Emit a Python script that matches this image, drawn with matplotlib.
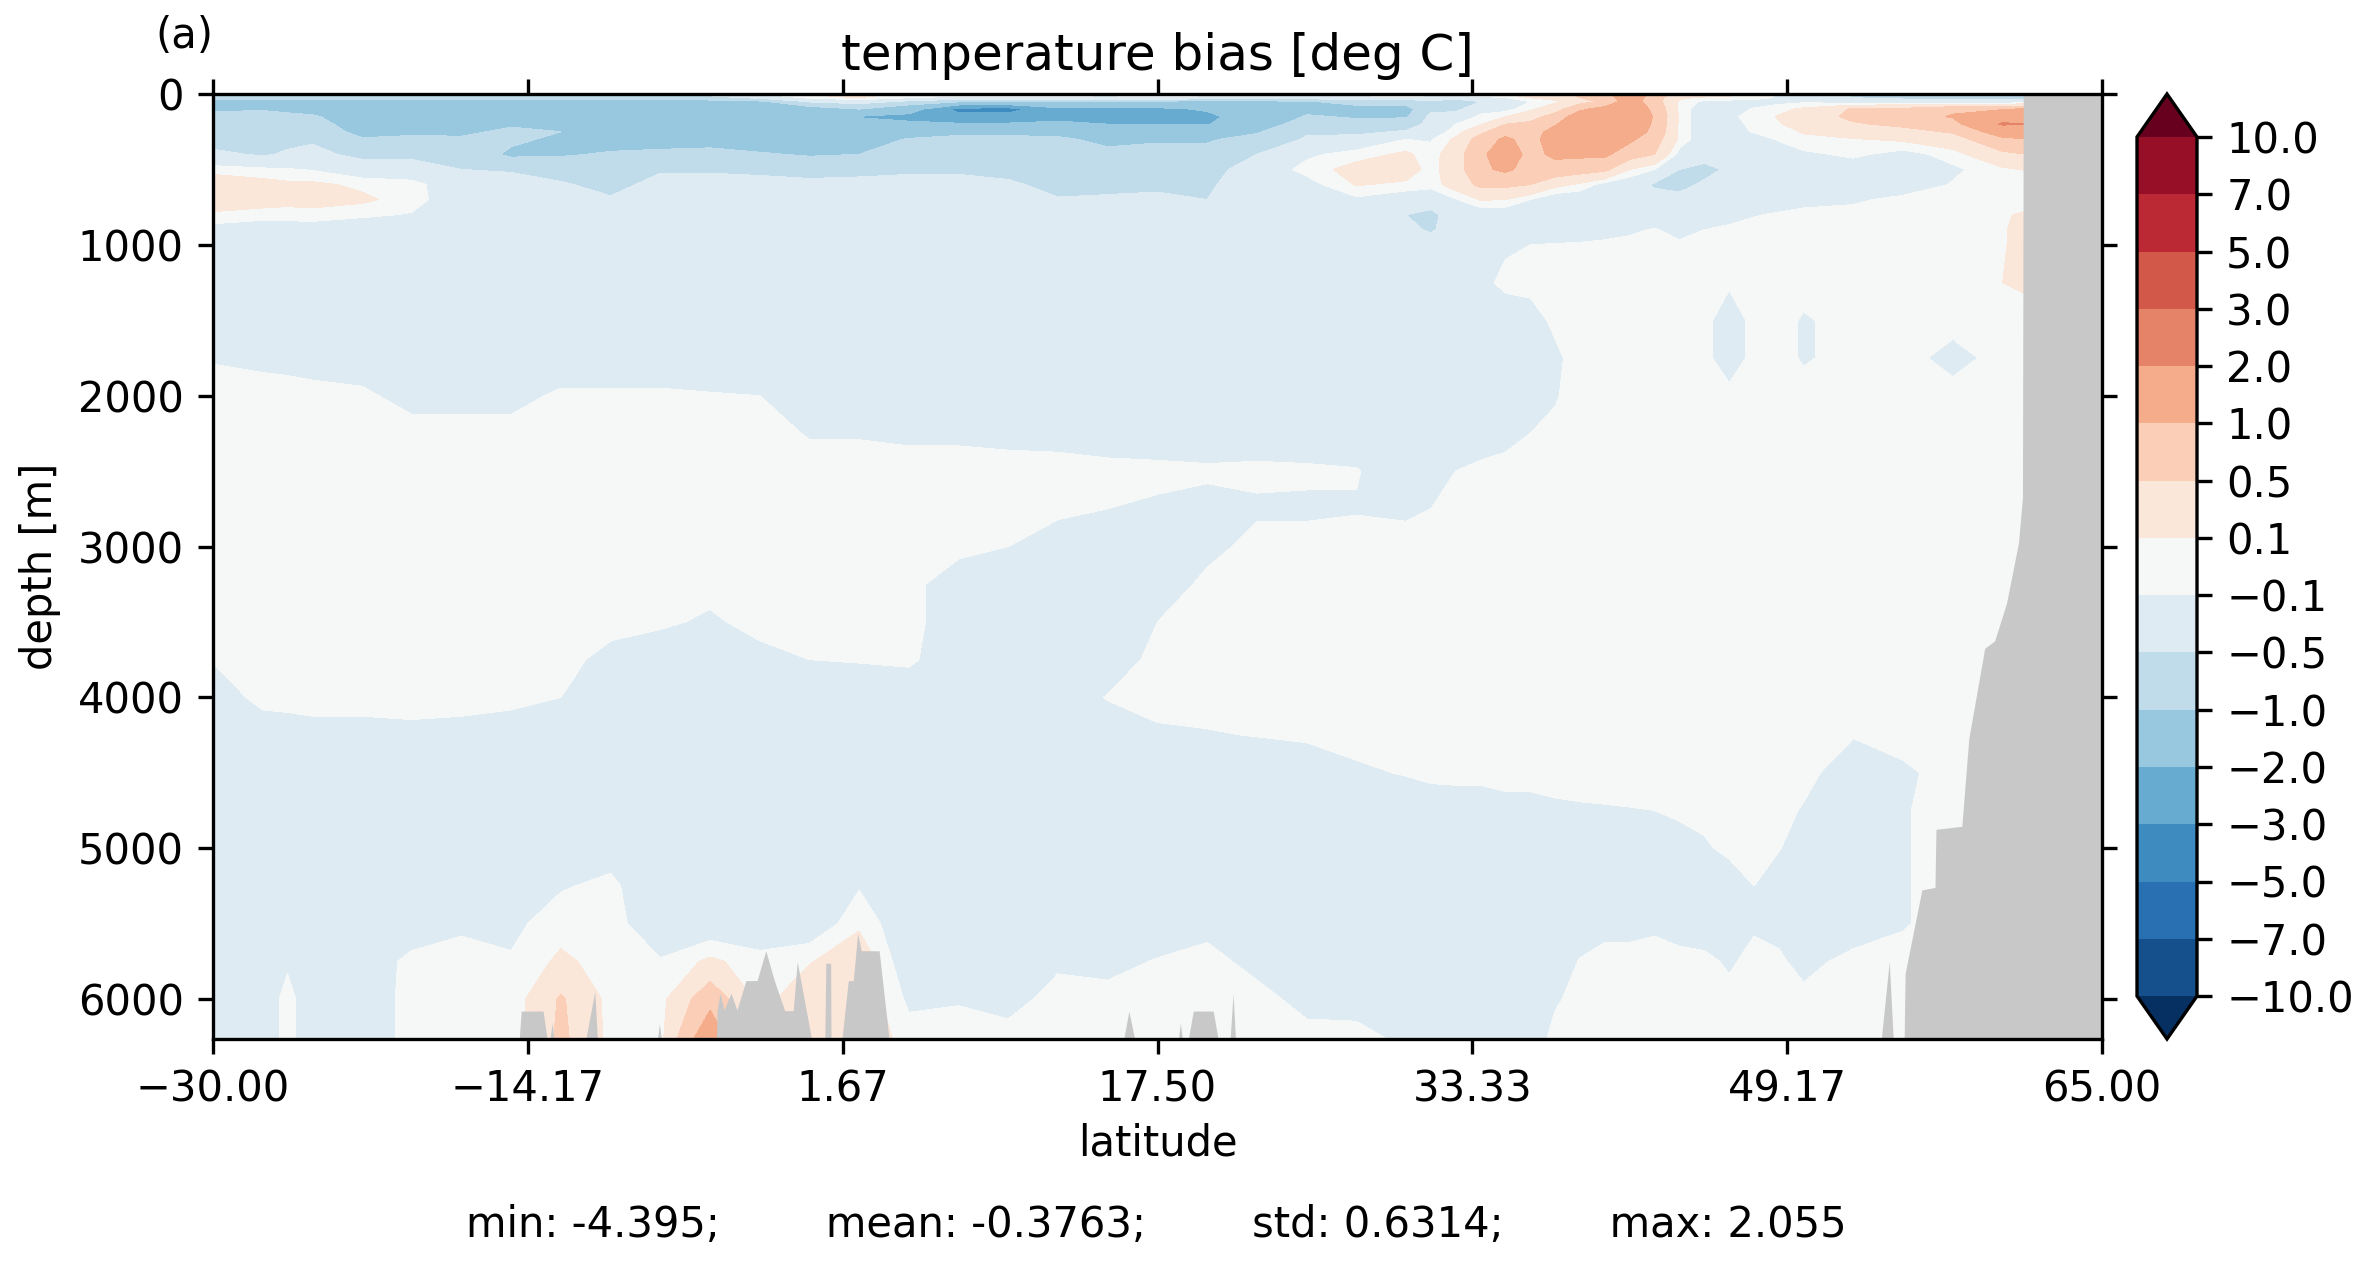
import numpy as np
import matplotlib
matplotlib.use("Agg")
import matplotlib.pyplot as plt
from matplotlib import colors, ticker

latitudes = [-30, -27.5, -26.25, -25, -22.5, -20, -17.5, -15, -12.5, -10, -7.5, -5, -2.5, 0, 2.5, 5, 7.5, 10, 12.5, 15,
             17.5, 20, 22.5, 25, 27.5, 30, 31.25, 32.5, 33.75, 35, 36.25, 37.5, 38.75, 40, 41.25, 42.5, 43.75, 45,
             46.25, 47.5, 48.75, 50, 52.5, 55, 57.5, 60, 62.5, 65]

upper_depths = [0, 25, 50, 100, 150, 200, 250, 300, 400, 500, 600, 700, 800, 900, 1000]
deep_depths = [1250, 1500, 1750, 2000, 2250, 2500, 2750, 3000, 3250, 3500, 3750, 4000, 4250, 4500, 4750, 5000, 5250,
               5500, 5750, 6000, 6265]

# bias per latitude (one line = one latitude), 0-1000 m
bias_upper = [
    [-.75, -.75, -1.2, -1.1, -.8, -.75, -.7, -.7, -.4, 0, .3, .3, .05, -.2, -.3],
    [-.4, -.75, -1.2, -1.05, -.8, -.7, -.7, -.7, -.55, -.05, .2, .2, .02, -.3, -.3],
    [-.45, -.75, -1.25, -1.15, -.85, -.7, -.65, -.6, -.45, -.08, .15, .17, .02, -.28, -.3],
    [-.5, -.75, -1.3, -1.3, -.9, -.7, -.6, -.55, -.4, -.12, .15, .2, .02, -.25, -.3],
    [-.5, -.75, -1.4, -1.5, -1.5, -1.4, -1.2, -.95, -.6, -.3, .05, .15, -.05, -.3, -.3],
    [-.5, -.8, -1.4, -1.5, -1.5, -1.4, -1.1, -.9, -.6, -.3, -.02, 0, -.12, -.3, -.3],
    [-.5, -.8, -1.4, -1.5, -1.5, -1.4, -1.15, -.9, -.65, -.5, -.3, -.3, -.3, -.3, -.3],
    [-.6, -.8, -1.3, -1.5, -1.5, -1.1, -.85, -.9, -1.1, -.55, -.3, -.3, -.3, -.3, -.3],
    [-.6, -.8, -1.3, -1.5, -1.5, -1.2, -1, -1.1, -1.05, -.7, -.45, -.3, -.3, -.3, -.3],
    [-.6, -.85, -1.3, -1.5, -1.5, -1.4, -1.3, -1.2, -.95, -.75, -.65, -.45, -.3, -.3, -.3],
    [-.5, -.8, -1.3, -1.5, -1.5, -1.4, -1.3, -1.2, -.9, -.55, -.35, -.3, -.3, -.3, -.3],
    [-.3, -.7, -1.2, -1.5, -1.5, -1.4, -1.3, -1.2, -.85, -.55, -.35, -.3, -.3, -.3, -.3],
    [-.1, -.4, -1.1, -1.5, -1.6, -1.5, -1.4, -1.3, -.95, -.6, -.35, -.3, -.3, -.3, -.3],
    [.15, -.05, -.45, -1.3, -1.7, -1.7, -1.5, -1.35, -1.05, -.65, -.4, -.3, -.3, -.3, -.3],
    [.2, .1, -.3, -1, -2.05, -1.7, -1.5, -1.35, -1, -.6, -.4, -.3, -.3, -.3, -.3],
    [.05, -.1, -.6, -1.5, -2.3, -1.8, -1.4, -.95, -.75, -.55, -.4, -.3, -.3, -.3, -.3],
    [.05, -.2, -.9, -3.3, -2.7, -1.9, -1.1, -.9, -.7, -.55, -.4, -.3, -.3, -.3, -.3],
    [.05, -.2, -1, -3.4, -2.6, -1.9, -1.1, -.9, -.7, -.6, -.45, -.3, -.3, -.3, -.3],
    [.05, -.2, -1.1, -2.2, -2.3, -1.8, -1.2, -.9, -.8, -.7, -.6, -.48, -.3, -.3, -.3],
    [0, -.2, -1.1, -2.2, -2.3, -2, -1.5, -1.15, -.85, -.7, -.6, -.45, -.3, -.3, -.3],
    [0, -.15, -1.1, -2.2, -2.3, -2, -1.4, -1.05, -.85, -.7, -.55, -.45, -.3, -.3, -.3],
    [0, -.2, -1.2, -1.9, -2.2, -2.05, -1.3, -1.05, -.85, -.65, -.55, -.5, -.3, -.3, -.3],
    [0, -.2, -1.2, -1.5, -1.5, -1.3, -1.05, -.85, -.5, -.3, -.3, -.3, -.3, -.3, -.3],
    [0, -.3, -1.05, -1.15, -.95, -.75, -.55, -.45, -.15, -.02, -.2, -.45, -.35, -.3, -.3],
    [0, -.2, -.8, -1.2, -1.05, -.85, -.6, -.35, 0, .2, .12, -.15, -.3, -.3, -.3],
    [.05, -.2, -.8, -1.2, -1.05, -.75, -.45, -.1, .15, .25, .05, -.3, -.5, -.4, -.3],
    [0, -.2, -.6, -.6, -.4, -.35, -.25, -.12, -.02, 0, -.02, -.3, -.6, -.55, -.3],
    [.05, -.3, -.8, -.6, -.3, -.1, -.02, .15, .3, .3, .25, -.12, -.3, -.3, -.3],
    [.05, -.2, -.5, -.2, -.05, .08, .4, .7, .9, .9, .6, .12, -.3, -.3, -.3],
    [.1, -.1, -.5, -.2, .1, .5, .8, 1.1, 1.3, 1.1, .6, .1, -.3, -.3, -.15],
    [.2, .1, -.1, .05, .3, .6, .75, .8, .85, .8, .5, -.1, -.3, -.3, -.1],
    [.3, .2, .05, .3, .7, .95, 1.2, 1.3, 1.1, .8, .2, -.3, -.3, -.3, -.08],
    [.6, .5, .3, .9, 1.3, 1.5, 1.5, 1.35, 1.1, .7, .05, -.3, -.3, -.3, -.06],
    [.8, .7, .6, 1.2, 1.7, 1.9, 1.8, 1.6, 1.1, .6, -.2, -.3, -.3, -.2, -.05],
    [1.5, 1.4, 1.3, 1.5, 1.6, 1.5, 1.35, 1.1, .7, .1, -.3, -.3, -.3, -.15, -.02],
    [.8, .7, .7, .85, .95, .9, .85, .7, .5, -.1, -.55, -.35, -.3, -.08, 0],
    [.3, .15, .05, .05, .05, .05, .05, .05, -.2, -.5, -.6, -.4, -.3, -.2, -.05],
    [.3, .05, -.15, -.3, -.3, -.3, -.3, -.3, -.35, -.6, -.45, -.3, -.3, -.1, 0],
    [.2, .02, -.18, -.2, -.15, -.18, -.2, -.25, -.32, -.45, -.38, -.3, -.2, -.05, 0],
    [.1, 0, -.2, -.08, -.02, -.05, -.08, -.2, -.3, -.3, -.3, -.3, -.12, 0, 0],
    [-.1, -.15, -.18, .03, .12, .08, .02, -.08, -.22, -.3, -.3, -.25, -.07, 0, 0],
    [-.3, -.3, -.15, .15, .25, .2, .12, .05, -.15, -.3, -.3, -.2, -.02, 0, 0],
    [-.6, -.5, -.3, .55, .6, .45, .3, .08, -.05, -.25, -.3, -.15, 0, 0, 0],
    [-.7, -.6, -.3, .6, .7, .6, .35, .15, -.2, -.3, -.3, -.02, -.02, 0, 0],
    [-.7, -.6, -.4, .9, 1.05, .75, .55, .3, 0, -.15, -.08, 0, 0, 0, 0],
    [-.7, -.6, -.4, .95, 1.6, 2.1, 1.3, .9, .4, .05, 0, 0, .05, .08, .08],
    [-.7, -.6, -.2, 1.2, 1.7, 1.9, 1.5, 1.05, .6, .2, 0, 0, .3, .3, .3],
    [-.7, -.6, -.2, 1.2, 1.7, 1.9, 1.5, 1.05, .6, .2, 0, 0, .3, .3, .3],
]

# same, 1250 m to the bottom
bias_deep = [
    [-.3, -.3, -.12, 0, 0, 0, 0, 0, 0, 0, -.08, -.3, -.3, -.3, -.3, -.3, -.3, -.3, -.3, -.3, -.3],
    [-.3, -.3, -.15, -.02, 0, 0, 0, 0, 0, 0, 0, 0, -.3, -.3, -.3, -.3, -.3, -.3, -.3, -.3, -.3],
    [-.3, -.3, -.17, -.02, 0, 0, 0, 0, 0, 0, 0, 0, -.25, -.3, -.3, -.3, -.3, -.3, -.15, 0, 0],
    [-.3, -.3, -.2, -.03, 0, 0, 0, 0, 0, 0, 0, 0, -.2, -.3, -.3, -.3, -.3, -.3, -.3, -.3, -.3],
    [-.3, -.3, -.25, -.05, 0, 0, 0, 0, 0, 0, 0, 0, -.2, -.3, -.3, -.3, -.3, -.3, -.3, -.3, -.3],
    [-.3, -.3, -.3, -.2, 0, 0, 0, 0, 0, 0, 0, 0, -.17, -.3, -.3, -.3, -.3, -.3, -.02, 0, 0],
    [-.3, -.3, -.3, -.2, 0, 0, 0, 0, 0, 0, 0, 0, -.2, -.3, -.3, -.3, -.3, -.15, 0, 0, 0],
    [-.3, -.3, -.3, -.2, 0, 0, 0, 0, 0, 0, 0, 0, -.3, -.3, -.3, -.3, -.3, -.15, -.08, -.08, -.08],
    [-.3, -.3, -.3, -.05, 0, 0, 0, 0, 0, 0, 0, -.1, -.3, -.3, -.3, -.3, -.12, 0, .15, .55, .6],
    [-.3, -.3, -.3, -.05, 0, 0, 0, 0, 0, 0, -.2, -.3, -.3, -.3, -.3, -.2, -.05, 0, 0, 0, 0],
    [-.3, -.3, -.3, -.05, 0, 0, 0, 0, 0, -.05, -.3, -.3, -.3, -.3, -.3, -.3, -.3, -.3, -.08, 0, 0],
    [-.3, -.3, -.3, -.08, 0, 0, 0, 0, 0, -.15, -.3, -.3, -.3, -.3, -.3, -.3, -.3, -.3, .15, .8, 1.5],
    [-.3, -.3, -.3, -.1, 0, 0, 0, 0, 0, 0, -.2, -.3, -.3, -.3, -.3, -.3, -.3, -.3, -.02, 0, 0],
    [-.3, -.3, -.3, -.3, -.12, 0, 0, 0, 0, 0, -.1, -.3, -.3, -.3, -.3, -.3, -.3, -.3, .08, .3, .3],
    [-.3, -.3, -.3, -.3, -.12, 0, 0, 0, 0, 0, -.08, -.3, -.3, -.3, -.3, -.3, -.12, .05, .3, .3, .3],
    [-.3, -.3, -.3, -.3, -.15, 0, 0, 0, 0, 0, -.05, -.3, -.3, -.3, -.3, -.3, -.3, -.3, -.3, -.15, 0],
    [-.3, -.3, -.3, -.3, -.15, 0, 0, 0, -.3, -.3, -.3, -.3, -.3, -.3, -.3, -.3, -.3, -.3, -.3, -.12, 0],
    [-.3, -.3, -.3, -.3, -.18, 0, 0, -.1, -.3, -.3, -.3, -.3, -.3, -.3, -.3, -.3, -.3, -.3, -.3, -.2, 0],
    [-.3, -.3, -.3, -.3, -.2, 0, -.02, -.3, -.3, -.3, -.3, -.3, -.3, -.3, -.3, -.3, -.3, -.3, -.15, 0, 0],
    [-.3, -.3, -.3, -.3, -.25, -.02, -.1, -.3, -.3, -.3, -.3, -.08, -.3, -.3, -.3, -.3, -.3, -.3, -.2, 0, 0],
    [-.3, -.3, -.3, -.3, -.3, -.02, -.15, -.3, -.3, -.1, 0, 0, -.15, -.3, -.3, -.3, -.3, -.3, -.08, 0, 0],
    [-.3, -.3, -.3, -.3, -.3, -.05, -.2, -.2, -.02, 0, 0, 0, -.12, -.3, -.3, -.3, -.3, -.2, 0, 0, 0],
    [-.3, -.3, -.3, -.3, -.3, -.03, -.15, 0, 0, 0, 0, 0, -.09, -.3, -.3, -.3, -.3, -.3, -.2, 0, 0],
    [-.3, -.3, -.3, -.3, -.3, -.05, -.15, 0, 0, 0, 0, 0, -.05, -.3, -.3, -.3, -.3, -.3, -.3, -.2, 0],
    [-.3, -.3, -.3, -.3, -.3, -.08, -.12, 0, 0, 0, 0, 0, 0, -.15, -.3, -.3, -.3, -.3, -.3, -.2, -.02],
    [-.3, -.3, -.3, -.3, -.3, -.3, -.15, 0, 0, 0, 0, 0, 0, -.08, -.3, -.3, -.3, -.3, -.3, -.3, -.15],
    [-.3, -.3, -.3, -.3, -.3, -.3, -.1, 0, 0, 0, 0, 0, 0, -.02, -.3, -.3, -.3, -.3, -.3, -.3, -.3],
    [-.3, -.3, -.3, -.3, -.3, -.1, 0, 0, 0, 0, 0, 0, 0, 0, -.3, -.3, -.3, -.3, -.3, -.3, -.3],
    [-.2, -.3, -.3, -.3, -.3, -.02, 0, 0, 0, 0, 0, 0, 0, 0, -.3, -.3, -.3, -.3, -.3, -.3, -.3],
    [-.02, -.3, -.3, -.3, -.2, 0, 0, 0, 0, 0, 0, 0, 0, 0, -.2, -.3, -.3, -.3, -.3, -.3, -.3],
    [-.03, -.2, -.25, -.2, -.1, 0, 0, 0, 0, 0, 0, 0, 0, 0, -.2, -.3, -.3, -.3, -.3, -.3, -.3],
    [0, -.05, -.15, -.12, -.05, 0, 0, 0, 0, 0, 0, 0, 0, 0, -.15, -.3, -.3, -.3, -.3, -.14, 0],
    [0, 0, 0, 0, 0, 0, 0, 0, 0, 0, 0, 0, 0, 0, -.13, -.3, -.3, -.3, -.08, 0, 0],
    [0, 0, 0, 0, 0, 0, 0, 0, 0, 0, 0, 0, 0, 0, -.12, -.3, -.3, -.2, 0, 0, 0],
    [0, 0, 0, 0, 0, 0, 0, 0, 0, 0, 0, 0, 0, 0, -.11, -.3, -.3, -.2, 0, 0, 0],
    [0, 0, 0, 0, 0, 0, 0, 0, 0, 0, 0, 0, 0, 0, -.1, -.3, -.3, -.15, 0, 0, 0],
    [0, 0, 0, 0, 0, 0, 0, 0, 0, 0, 0, 0, 0, 0, -.02, -.3, -.3, -.25, 0, 0, 0],
    [0, 0, 0, 0, 0, 0, 0, 0, 0, 0, 0, 0, 0, 0, 0, -.15, -.3, -.3, -.02, 0, 0],
    [-.05, -.3, -.3, 0, 0, 0, 0, 0, 0, 0, 0, 0, 0, 0, 0, -.02, -.3, -.3, -.15, 0, 0],
    [0, 0, 0, 0, 0, 0, 0, 0, 0, 0, 0, 0, 0, 0, 0, 0, -.1, -.15, 0, 0, 0],
    [0, 0, 0, 0, 0, 0, 0, 0, 0, 0, 0, 0, 0, 0, 0, -.08, -.3, -.2, -.05, 0, 0],
    [0, -.13, -.13, 0, 0, 0, 0, 0, 0, 0, 0, 0, 0, 0, -.13, -.3, -.3, -.3, -.2, -.02, 0],
    [0, 0, 0, 0, 0, 0, 0, 0, 0, 0, 0, 0, -.08, -.3, -.3, -.3, -.3, -.3, 0, 0, 0],
    [0, 0, 0, 0, 0, 0, 0, 0, 0, 0, 0, 0, 0, -.15, -.12, -.12, -.12, -.12, -.02, 0, 0],
    [0, 0, -.2, 0, 0, 0, 0, 0, 0, 0, 0, 0, 0, 0, 0, 0, 0, 0, 0, 0, 0],
    [.1, 0, 0, 0, 0, 0, 0, 0, 0, 0, 0, 0, 0, 0, 0, 0, 0, 0, 0, 0, 0],
    [.3, 0, 0, 0, 0, 0, 0, 0, 0, 0, 0, 0, 0, 0, 0, 0, 0, 0, 0, 0, 0],
    [.3, 0, 0, 0, 0, 0, 0, 0, 0, 0, 0, 0, 0, 0, 0, 0, 0, 0, 0, 0, 0],
]

# sea floor (grey below)
floor_lat = [-30, -14.6, -14.5, -13.4, -13.2, -13.05, -12.95, -12.85, -11.25, -10.8, -10.67, -7.65, -7.55, -7.45,
             -4.68, -4.65, -4.5, -4.3, -3.95, -3.65, -3.2, -2.64, -2.2, -1.77, -1.25, -.82, -.62, .1, .77, .82, 1.06,
             1.08, 1.63, 1.95, 2.2, 2.42, 2.6, 3.5, 4, 15.8, 16.06, 16.35, 18.55, 18.65, 18.75, 19.05, 19.3, 20.3,
             20.55, 21.15, 21.3, 21.42, 53.9, 54.3, 54.5, 55.05, 55.1, 55.4, 55.94, 56.6, 56.65, 57.95, 58.3, 59.1,
             59.6, 60.2, 60.8, 61, 61.04, 65]
floor_depth = [6265, 6265, 6080, 6080, 6265, 6265, 6160, 6265, 6265, 5950, 6265, 6265, 6165, 6265,
               6265, 6073, 5962, 6073, 5962, 6073, 5878, 5878, 5680, 5878, 6077, 6077, 5752, 6265, 6265, 5763, 5763,
               6265, 6265, 5878, 5878, 5565, 5680, 5680, 6265, 6265, 6080, 6265, 6265, 6160, 6265, 6265, 6080, 6080,
               6265, 6265, 5967, 6265, 6265, 5752, 6265, 6265, 5830, 5631, 5277, 5260, 4875, 4855, 4275, 3675,
               3625, 3375, 2975, 2675, 0, 0]

levels = [-10, -7, -5, -3, -2, -1, -.5, -.1, .1, .5, 1, 2, 3, 5, 7, 10]
lat_ticks = [-30, -14.17, 1.67, 17.5, 33.33, 49.17, 65]
depth_ticks = [0, 1000, 2000, 3000, 4000, 5000, 6000]

fig = plt.figure(figsize=(2362 / 300, 1263 / 300), dpi=300)
ax = fig.add_axes([213 / 2362, 1 - 1039 / 1263, 1889 / 2362, 945 / 1263])
cax = fig.add_axes([2137 / 2362, 1 - 1039 / 1263, 60 / 2362, 945 / 1263])

bias = np.hstack([np.array(bias_upper), np.array(bias_deep)]).T
depths = upper_depths + deep_depths
norm = colors.BoundaryNorm(levels, 256, extend='both')
cs = ax.contourf(latitudes, depths, bias, levels=levels, cmap='RdBu_r', norm=norm, extend='both')
ax.fill_between(floor_lat, floor_depth, 6265, color='#c8c8c8', linewidth=0)

ax.set_xlim(-30, 65)
ax.set_ylim(6265, 0)
ax.set_xticks(lat_ticks)
ax.xaxis.set_major_formatter(ticker.StrMethodFormatter('{x:.2f}'))
ax.set_yticks(depth_ticks)
ax.tick_params(top=True, right=True)
ax.set_xlabel("latitude", labelpad=3)
ax.set_ylabel("depth [m]")
ax.set_title("temperature bias [deg C]", fontsize=12, pad=5.7)

cbar = fig.colorbar(cs, cax=cax, ticks=levels, format=ticker.StrMethodFormatter('{x:.1f}'))

fig.text(155 / 2362, 1 - 36 / 1263, "(a)", fontsize=10, ha='left', va='center')
fig.text(1156 / 2362, 1 - 1225 / 1263, "min: -4.395;        mean: -0.3763;        std: 0.6314;        max: 2.055",
         ha='center', va='center', fontsize=10)

fig.savefig("out.png", dpi=300)
